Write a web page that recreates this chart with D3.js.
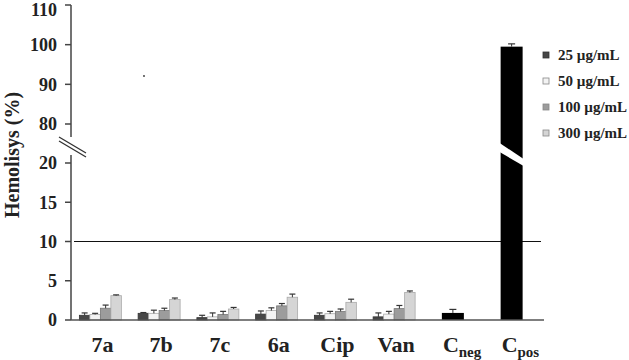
<!DOCTYPE html>
<html><head><meta charset="utf-8">
<script src="https://cdn.jsdelivr.net/npm/d3@7"></script>
<style>body{margin:0;background:#fff}svg{display:block}</style>
</head><body>
<script>
const categories = ["7a","7b","7c","6a","Cip","Van","Cneg","Cpos"];
const seriesNames = ["25 µg/mL","50 µg/mL","100 µg/mL","300 µg/mL"];
const c25  = [0.6, 0.85, 0.3, 0.75, 0.6, 0.4];
const c50  = [0.7, 0.85, 0.4, 1.2, 0.8, 0.75];
const c100 = [1.5, 1.2, 0.7, 1.8, 1.1, 1.45];
const c300 = [3.1, 2.6, 1.4, 2.9, 2.25, 3.5];
const e25  = [0.3, 0.1, 0.3, 0.4, 0.3, 0.5];
const e50  = [0.15, 0.4, 0.5, 0.35, 0.3, 0.35];
const e100 = [0.4, 0.3, 0.4, 0.3, 0.3, 0.4];
const e300 = [0.1, 0.2, 0.2, 0.4, 0.4, 0.2];
const controlNames = ["Cneg","Cpos"];
const controlValues = [0.9, 99.5];
const controlErrors = [0.45, 0.7];
const lowTicks = [0,5,10,15,20];
const highTicks = [80,90,100,110];
const threshold = 10;

const fills = ["#474747","#f3f3f3","#9c9c9c","#d5d5d5"];
const strokes = ["#333","#aaa","#777","#aaa"];

const W=629,H=360;
const svg=d3.select("body").append("svg").attr("width",W).attr("height",H);
const font="'Liberation Serif','Times New Roman',serif";

const x=d3.scaleBand().domain(categories).range([71,541]).padding(0);
const xs=d3.scaleBand().domain(seriesNames).range([0,42]).padding(0);
const yLow=d3.scaleLinear().domain([0,20]).range([320,163]);
const yHigh=d3.scaleLinear().domain([80,110]).range([124,5]);
const axisX=71;
const breakTop=yHigh(80)+13, breakBot=yLow(20)-8;

const g=svg.append("g");
g.append("line").attr("x1",axisX).attr("x2",axisX).attr("y1",yHigh(110)).attr("y2",breakTop).attr("stroke","#444").attr("stroke-width",1.5);
g.append("line").attr("x1",axisX).attr("x2",axisX).attr("y1",breakBot).attr("y2",yLow(0)).attr("stroke","#444").attr("stroke-width",1.5);
[0,4].forEach(d=>{
  g.append("line").attr("x1",axisX-12).attr("y1",breakTop+d).attr("x2",axisX+15).attr("y2",breakTop+d+16)
   .attr("stroke","#333").attr("stroke-width",1.3);
});
const ticks=[...lowTicks.map(v=>({v,y:yLow(v)})),...highTicks.map(v=>({v,y:yHigh(v)}))];
g.selectAll(".tk").data(ticks).join("line").attr("x1",axisX-6).attr("x2",axisX).attr("y1",d=>d.y).attr("y2",d=>d.y).attr("stroke","#444").attr("stroke-width",1.5);
g.selectAll(".tl").data(ticks).join("text").attr("x",57).attr("y",d=>Math.max(d.y,10)).attr("dy","0.35em").attr("text-anchor","end")
 .attr("font-family",font).attr("font-weight","bold").attr("font-size",18).attr("fill","#222").text(d=>d.v);

svg.append("text").attr("transform","translate(12,155) rotate(-90)").attr("text-anchor","middle").attr("dy","0.35em")
 .attr("font-family",font).attr("font-weight","bold").attr("font-size",20).attr("fill","#222").text("Hemolisys (%)");

svg.append("line").attr("x1",74).attr("x2",541).attr("y1",yLow(threshold)).attr("y2",yLow(threshold)).attr("stroke","#111").attr("stroke-width",1.2);

const sVals=[c25,c50,c100,c300], sErr=[e25,e50,e100,e300];
const bars=[];
categories.slice(0,6).forEach((c,i)=>{
  seriesNames.forEach((s,j)=>{
    bars.push({c,s,j,v:sVals[j][i],e:sErr[j][i]});
  });
});
const gx=c=>x(c)+x.bandwidth()/2-21;
const bg=svg.append("g");
bg.selectAll("rect").data(bars).join("rect")
 .attr("x",d=>gx(d.c)+xs(d.s)).attr("width",xs.bandwidth())
 .attr("y",d=>yLow(d.v)).attr("height",d=>yLow(0)-yLow(d.v))
 .attr("fill",d=>fills[d.j]).attr("stroke",d=>strokes[d.j]).attr("stroke-width",0.8);
bg.selectAll(".ev").data(bars).join("line")
 .attr("x1",d=>gx(d.c)+xs(d.s)+xs.bandwidth()/2).attr("x2",d=>gx(d.c)+xs(d.s)+xs.bandwidth()/2)
 .attr("y1",d=>yLow(d.v)).attr("y2",d=>yLow(d.v+d.e)).attr("stroke","#333").attr("stroke-width",1);
bg.selectAll(".ec").data(bars).join("line")
 .attr("x1",d=>gx(d.c)+xs(d.s)+xs.bandwidth()/2-3).attr("x2",d=>gx(d.c)+xs(d.s)+xs.bandwidth()/2+3)
 .attr("y1",d=>yLow(d.v+d.e)).attr("y2",d=>yLow(d.v+d.e)).attr("stroke","#333").attr("stroke-width",1.2);

const cw=22;
const cx=c=>x(c)+x.bandwidth()/2;
const yv=v=>v>20?yHigh(v):yLow(v);
controlNames.forEach((c,i)=>{
  const v=controlValues[i], e=controlErrors[i];
  svg.append("rect").attr("x",cx(c)-cw/2).attr("width",cw).attr("y",yv(v)).attr("height",yLow(0)-yv(v)).attr("fill","#000");
  svg.append("line").attr("x1",cx(c)).attr("x2",cx(c)).attr("y1",yv(v)).attr("y2",yv(v+e)).attr("stroke","#333").attr("stroke-width",1);
  svg.append("line").attr("x1",cx(c)-3.5).attr("x2",cx(c)+3.5).attr("y1",yv(v+e)).attr("y2",yv(v+e)).attr("stroke","#333").attr("stroke-width",1.2);
  if(v>20){
    const x0=cx(c)-cw/2-1,x1=cx(c)+cw/2+1;
    svg.append("polygon").attr("points",[[x0,breakTop+6],[x1,breakTop+22],[x1,breakTop+29],[x0,breakTop+15]].map(p=>p.join(",")).join(" ")).attr("fill","#fff");
  }
});

svg.append("line").attr("x1",axisX).attr("x2",544).attr("y1",yLow(0)).attr("y2",yLow(0)).attr("stroke","#555").attr("stroke-width",1.5);

categories.forEach(c=>{
  const t=svg.append("text").attr("y",352).attr("font-family",font).attr("font-weight","bold").attr("font-size",22).attr("fill","#222");
  if(controlNames.includes(c)){
    t.attr("x",cx(c)-10).attr("text-anchor","start");
    t.append("tspan").text("C");
    t.append("tspan").attr("font-size",15).attr("dy",5).text(c.slice(1));
  } else {
    t.attr("x",cx(c)+2).attr("text-anchor","middle").text(c);
  }
});

const lg=svg.append("g");
seriesNames.forEach((s,j)=>{
  const yy=55+j*26;
  lg.append("rect").attr("x",543).attr("y",yy-3).attr("width",6).attr("height",6).attr("fill",fills[j]).attr("stroke",j===0?"#333":"#888").attr("stroke-width",0.8);
  lg.append("text").attr("x",558).attr("y",yy).attr("dy","0.35em").attr("font-family",font).attr("font-weight","bold").attr("font-size",15).attr("fill","#222").text(s);
});

svg.append("circle").attr("cx",144).attr("cy",76).attr("r",0.9).attr("fill","#333");
</script>
</body></html>
